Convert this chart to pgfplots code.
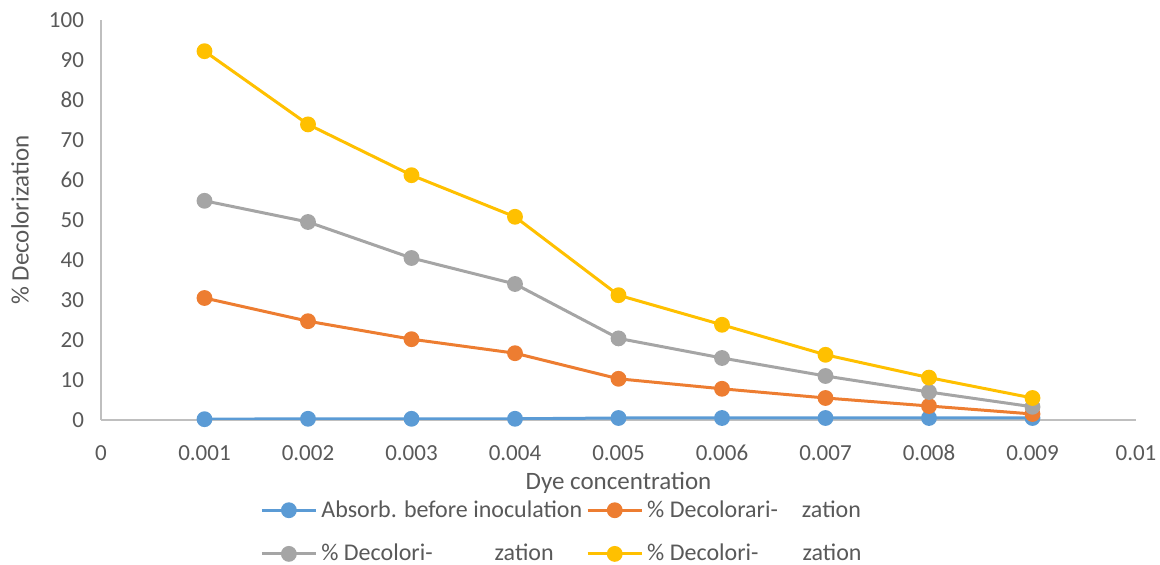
\documentclass[border=0pt]{standalone}
\usepackage{pgfplots}
\pgfplotsset{compat=1.18}
\usepackage{fontspec}
\setmainfont{Carlito}
\definecolor{cblue}{HTML}{5B9BD5}
\definecolor{corange}{HTML}{ED7D31}
\definecolor{cgray}{HTML}{A5A5A5}
\definecolor{cyellow}{HTML}{FFC000}
\definecolor{txt}{HTML}{595959}
\definecolor{axl}{HTML}{BFBFBF}
\begin{document}
\begin{tikzpicture}
\begin{axis}[
  scale only axis,
  width=517.5pt, height=200pt,
  xmin=0, xmax=0.01, ymin=0, ymax=100,
  axis x line*=bottom, axis y line*=left,
  axis line style={axl, line width=0.8pt, -},
  scaled x ticks=false,
  xtick={0,0.001,0.002,0.003,0.004,0.005,0.006,0.007,0.008,0.009,0.01},
  xticklabels={0,0.001,0.002,0.003,0.004,0.005,0.006,0.007,0.008,0.009,0.01},
  ytick={0,10,...,100},
  major tick length=0pt,
  tick label style={font=\fontsize{11.5}{13}\selectfont, text=txt},
  xticklabel style={anchor=base, yshift=-20.5pt},
  yticklabel style={xshift=-5pt},
  /pgf/number format/assume math mode=true,
  xlabel={Dye concentration},
  ylabel={\% Decolorization},
  label style={font=\fontsize{12.5}{14}\selectfont, text=txt},
  xlabel style={at={(axis description cs:0.5,0)}, anchor=center, yshift=-31.5pt},
  ylabel style={at={(axis description cs:0,0.5)}, anchor=center, yshift=40.5pt},
  legend columns=2,
  legend style={at={(0.1536,-0.19)}, anchor=north west, draw=none, font=\fontsize{12}{14}\selectfont, text=txt,
    /tikz/every even column/.append style={column sep=0pt}, row sep=8pt, inner sep=0pt,
    /tikz/every odd column/.append style={column sep=0pt}},
  legend cell align=left,
  legend image code/.code={\draw[mark repeat=2,mark phase=2] plot coordinates {(0pt,0pt)(13.5pt,0pt)(27pt,0pt)};},
  every axis plot/.append style={line width=1.5pt, mark=*, mark size=3.2pt},
]
\addplot[color=cblue, mark options={fill=cblue}] coordinates {(0.001,0.2)(0.002,0.3)(0.003,0.3)(0.004,0.3)(0.005,0.5)(0.006,0.5)(0.007,0.5)(0.008,0.5)(0.009,0.5)};
\addlegendentry{Absorb. before inoculation}
\addplot[color=corange, mark options={fill=corange}] coordinates {(0.001,30.5)(0.002,24.7)(0.003,20.2)(0.004,16.7)(0.005,10.3)(0.006,7.8)(0.007,5.5)(0.008,3.5)(0.009,1.5)};
\addlegendentry{\% Decolorari-\hspace{12pt}zation}
\addplot[color=cgray, mark options={fill=cgray}] coordinates {(0.001,54.8)(0.002,49.5)(0.003,40.5)(0.004,34.0)(0.005,20.4)(0.006,15.5)(0.007,11.0)(0.008,7.0)(0.009,3.3)};
\addlegendentry{\% Decolori-\hspace{31pt}zation}
\addplot[color=cyellow, mark options={fill=cyellow}] coordinates {(0.001,92.2)(0.002,73.9)(0.003,61.2)(0.004,50.8)(0.005,31.2)(0.006,23.8)(0.007,16.3)(0.008,10.6)(0.009,5.5)};
\addlegendentry{\% Decolori-\hspace{22pt}zation}
\end{axis}
\pgfresetboundingbox
\path (-50.5pt,-72.5pt) rectangle (529.5pt,210pt);
\end{tikzpicture}
\end{document}
